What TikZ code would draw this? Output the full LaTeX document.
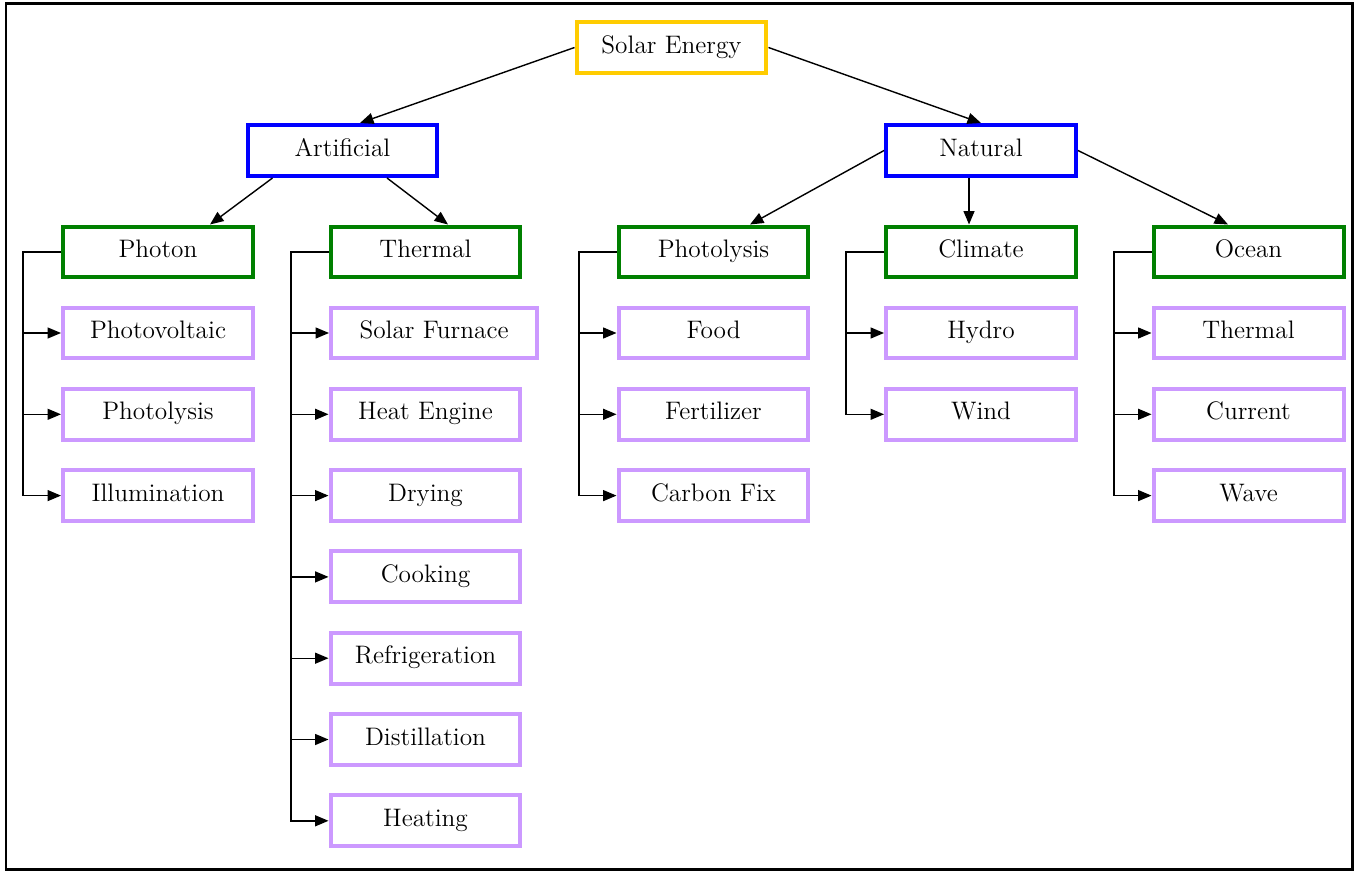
\documentclass[tikz,border=0pt]{standalone}
\usetikzlibrary{arrows.meta}
\definecolor{rootgold}{HTML}{FFCC00}
\definecolor{kindblue}{HTML}{0000FF}
\definecolor{groupgreen}{HTML}{008000}
\definecolor{leaflilac}{HTML}{CC99FF}
\tikzset{
  box/.style={draw, line width=0.08cm, minimum width=3.8cm, minimum height=1.02cm,
    inner sep=0pt, text height=1.5ex, text depth=0pt, fill=white, font=\Large},
  rootbox/.style={box, draw=rootgold},
  kindbox/.style={box, draw=kindblue},
  groupbox/.style={box, draw=groupgreen},
  leafbox/.style={box, draw=leaflilac},
  arr/.style={-{Triangle[length=2.7mm,width=2.2mm]}, line width=0.8pt},
}
\begin{document}
\begin{tikzpicture}[x=0.02cm, y=-0.02cm]
  \useasboundingbox (0,0) rectangle (1354,871); %
  \draw[line width=0.06cm] (6,4) rectangle (1352,869); %
  % top levels
  \node[rootbox] (solar) at (671.5,47.5) {Solar Energy}; %
  \node[kindbox] (art) at (342.5,150.5) {Artificial}; %
  \node[kindbox] (nat) at (981,150.5) {Natural}; %
  \node[groupbox] (photon) at (158,252) {Photon}; %
  \node[groupbox] (therm) at (425.5,252) {Thermal}; %
  \node[groupbox] (plys) at (713.5,252) {Photolysis}; %
  \node[groupbox] (clim) at (981,252) {Climate}; %
  \node[groupbox] (ocean) at (1248.5,252) {Ocean}; %
  % leaves
  \node[leafbox] (pv) at (158,333) {Photovoltaic}; %
  \node[leafbox] (pl) at (158,414.3) {Photolysis}; %
  \node[leafbox] (il) at (158,495.6) {Illumination}; %
  \node[leafbox, minimum width=4.12cm] (fur) at (434,333) {Solar Furnace}; %
  \node[leafbox] (eng) at (425.5,414.3) {Heat Engine}; %
  \node[leafbox] (dry) at (425.5,495.6) {Drying}; %
  \node[leafbox] (cook) at (425.5,576.9) {Cooking}; %
  \node[leafbox] (refr) at (425.5,658.2) {Refrigeration}; %
  \node[leafbox] (dist) at (425.5,739.5) {Distillation}; %
  \node[leafbox] (heat) at (425.5,820.8) {Heating}; %
  \node[leafbox] (food) at (713.5,333) {Food}; %
  \node[leafbox] (fert) at (713.5,414.3) {Fertilizer}; %
  \node[leafbox] (cfix) at (713.5,495.6) {Carbon Fix}; %
  \node[leafbox] (hydro) at (981,333) {Hydro}; %
  \node[leafbox] (wind) at (981,414.3) {Wind}; %
  \node[leafbox] (otherm) at (1248.5,333) {Thermal}; %
  \node[leafbox] (curr) at (1248.5,414.3) {Current}; %
  \node[leafbox] (wave) at (1248.5,495.6) {Wave}; %
  % links between levels
  \draw[arr] (solar.west) -- ([xshift=0.35cm]art.north); %
  \draw[arr] (solar.east) -- (nat.north); %
  \draw[arr] ([xshift=-1.4cm]art.south) -- ([xshift=1.04cm]photon.north); %
  \draw[arr] ([xshift=0.89cm]art.south) -- ([xshift=0.45cm]therm.north); %
  \draw[arr] (nat.west) -- ([xshift=0.73cm]plys.north); %
  \draw[arr] ([xshift=-0.24cm]nat.south) -- ([xshift=-0.24cm]clim.north); %
  \draw[arr] (nat.east) -- ([xshift=-0.41cm]ocean.north); %
  % branch lines
  \coordinate (b1) at (23,252); %
  \coordinate (b2) at (291,252); %
  \coordinate (b3) at (579,252); %
  \coordinate (b4) at (846,252); %
  \coordinate (b5) at (1114,252); %
  \foreach \n in {pv,pl,il} \draw[arr] (photon.west) -- (b1) |- (\n.west); %
  \foreach \n in {fur,eng,dry,cook,refr,dist,heat} \draw[arr] (therm.west) -- (b2) |- (\n.west); %
  \foreach \n in {food,fert,cfix} \draw[arr] (plys.west) -- (b3) |- (\n.west); %
  \foreach \n in {hydro,wind} \draw[arr] (clim.west) -- (b4) |- (\n.west); %
  \foreach \n in {otherm,curr,wave} \draw[arr] (ocean.west) -- (b5) |- (\n.west); %
\end{tikzpicture}
\end{document}
